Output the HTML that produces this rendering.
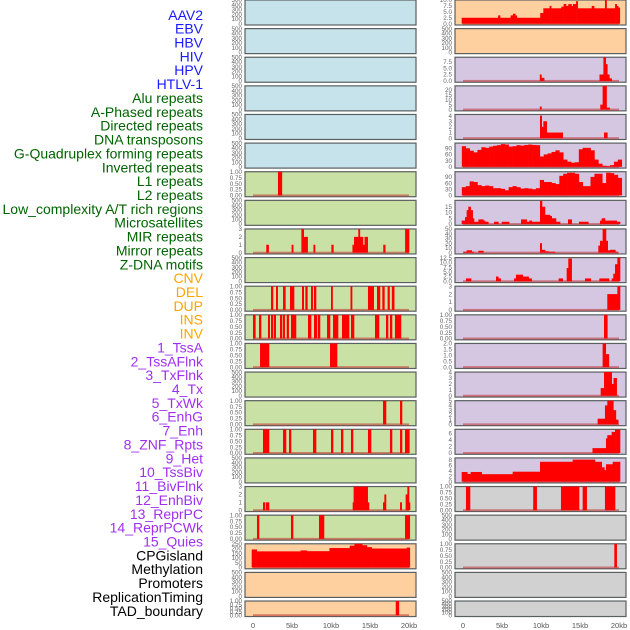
<!DOCTYPE html>
<html><head><meta charset="utf-8">
<style>
html,body{margin:0;padding:0;background:#fff;}
svg{display:block;font-family:"Liberation Sans",sans-serif;}
</style></head>
<body>
<svg id="chart" width="630" height="630" viewBox="0 0 630 630" xmlns="http://www.w3.org/2000/svg"></svg>
<script>
// ---- data ----
const labelNames = ["AAV2","EBV","HBV","HIV","HPV","HTLV-1","Alu repeats","A-Phased repeats","Directed repeats","DNA transposons","G-Quadruplex forming repeats","Inverted repeats","L1 repeats","L2 repeats","Low_complexity A/T rich regions","Microsatellites","MIR repeats","Mirror repeats","Z-DNA motifs","CNV","DEL","DUP","INS","INV","1_TssA","2_TssAFlnk","3_TxFlnk","4_Tx","5_TxWk","6_EnhG","7_Enh","8_ZNF_Rpts","9_Het","10_TssBiv","11_BivFlnk","12_EnhBiv","13_ReprPC","14_ReprPCWk","15_Quies","CPGisland","Methylation","Promoters","ReplicationTiming","TAD_boundary"];
const labelGroups = ["v","v","v","v","v","v","r","r","r","r","r","r","r","r","r","r","r","r","r","s","s","s","s","s","c","c","c","c","c","c","c","c","c","c","c","c","c","c","c","o","o","o","o","o"];
const xTicks = [0,5,10,15,20];
const xTickLabels = ["0","5kb","10kb","15kb","20kb"];

// segments: [startKb, endKb, value]
const segAlu = [[3.2,3.7,1]];
const segDirected = [[1.7,2.0,1],[4.95,5.15,1],[6.2,6.5,3],[6.5,7.0,2],[7.75,7.95,1],[10.05,10.3,1],[12.75,12.95,1],[12.95,13.5,2],[13.5,13.7,3],[13.7,14.1,2],[14.1,14.3,1],[14.3,14.7,2],[16.7,16.95,1],[19.5,20.0,3]];
const segGQuad = [[2.31,2.56,1],[2.95,3.16,1],[3.85,4.15,1],[4.74,5.26,1],[6.28,6.5,1],[6.71,6.97,1],[7.44,7.65,1],[7.82,8.08,1],[10.0,10.2,1],[12.5,12.7,1],[14.74,15.47,1],[15.9,16.28,1],[16.58,16.84,1],[17.26,17.5,1],[17.8,18.1,1]];
const segInverted = [[0.0,0.3,1],[0.77,1.03,1],[1.92,2.14,1],[2.31,2.56,1],[2.69,2.91,1],[3.46,3.72,1],[3.85,4.06,1],[4.32,4.57,1],[4.87,5.51,1],[7.05,7.44,1],[7.82,8.2,1],[8.33,8.59,1],[9.49,9.87,1],[10.26,10.9,1],[11.41,12.31,1],[12.56,12.95,1],[15.64,16.15,1],[17.05,17.31,1],[17.56,17.82,1],[18.2,18.97,1]];
const segL1 = [[0.9,2.05,1],[9.87,10.77,1]];
const segLowC = [[16.67,17.05,1],[18.85,19.1,1]];
const segMicro = [[1.28,2.05,1],[3.85,4.23,1],[4.62,4.87,1],[7.69,8.08,1],[10.0,10.26,1],[11.28,11.54,1],[12.56,12.82,1],[14.74,15.13,1],[17.56,17.82,1],[18.85,19.1,1],[19.49,20.04,1]];
const segMirror = [[1.28,1.54,1],[1.67,2.05,1],[12.78,12.9,1],[12.9,14.7,3],[14.7,14.87,1],[16.67,16.84,1],[16.84,17.05,2],[18.85,19.06,1],[19.57,19.79,2],[19.79,20.0,3],[20.0,20.1,1]];
const segZDNA = [[0.51,0.77,1],[4.87,5.13,1],[8.46,9.1,1],[19.49,20.1,1]];
const segCNV = [[-0.17,0.47,190],[0.47,6.1,170],[6.1,6.9,180],[6.9,9.8,172],[9.8,12.4,205],[12.4,13.0,230],[13.0,14.0,250],[14.0,14.6,235],[14.6,15.2,215],[15.2,19.7,200],[19.7,20.1,210]];
const segDUP = [[18.3,18.7,1]];
const segINS = [[-0.17,4.5,2.5],[4.5,4.75,3.5],[4.75,6.1,2.5],[6.1,6.4,3.5],[6.4,6.7,4.2],[6.7,6.9,3.5],[6.9,9.9,2.5],[9.9,10.3,4.5],[10.3,11.1,6.5],[11.1,11.3,7.5],[11.3,12.6,6.5],[12.6,12.9,7.2],[12.9,13.2,8.3],[13.2,13.5,7.5],[13.5,13.9,8.3],[13.9,14.1,7.5],[14.1,14.5,8.3],[14.5,14.7,9.5],[14.7,16.5,6.5],[16.5,16.8,7.5],[16.8,18.2,6.5],[18.2,18.4,10],[18.4,19.5,6.5],[19.5,19.7,8.3],[19.7,19.9,7.5],[19.9,20.1,6.8]];
const segTssA = [[9.85,10.05,2.5],[10.05,10.4,1.2],[17.5,18.0,2.5],[18.0,18.3,10],[18.3,18.5,6.5],[18.5,18.76,2.5],[18.76,19.06,1]];
const segTssAFlnk = [[9.85,10.05,3],[17.6,17.9,5],[17.9,18.4,24],[18.4,18.8,2]];
const segTxFlnk = [[9.87,10.09,4],[10.09,10.3,2],[10.3,10.73,3],[10.73,12.78,1],[18.08,18.5,1]];
const binsTx = [100,90,78,70,82,95,92,98,102,105,110,108,98,100,105,103,106,108,106,105,50,60,65,72,80,70,35,25,20,22,85,92,92,80,35,15,5,3,8,25,35];
const binsTxWk = [40,45,68,65,50,45,48,45,35,35,32,25,40,45,40,33,35,33,30,35,75,65,65,60,55,95,105,110,110,105,65,45,45,90,105,105,60,110,108,100,85];
const segEnhG = [[-0.17,0.26,3],[0.26,0.47,6],[0.47,0.68,12],[0.68,0.98,15],[0.98,1.24,12],[1.24,1.41,5],[1.41,1.97,2],[1.97,2.61,4],[2.61,2.82,3],[2.82,3.25,2],[3.97,4.53,2],[4.96,5.9,2],[7.44,8.16,4],[8.16,8.5,2],[8.5,8.8,3],[8.8,9.87,2],[9.87,10.13,20],[10.13,10.51,15],[10.51,11.15,8],[11.15,11.37,7],[11.37,11.92,5],[11.92,12.44,2],[13.46,13.93,4],[14.87,16.07,2],[17.56,17.78,3],[17.78,18.2,5],[18.2,18.85,3],[18.85,19.7,3],[19.7,20.13,2]];
const segEnh = [[0.04,0.47,2],[0.47,1.11,5],[1.11,1.41,2],[1.97,2.61,4],[9.87,10.09,20],[10.09,10.51,6],[10.51,10.94,3],[10.94,11.8,2],[17.35,17.56,15],[17.56,17.9,25],[17.9,18.33,50],[18.33,18.55,25],[18.55,18.85,5],[18.85,19.53,6],[19.53,19.79,2]];
const segZNF = [[0.38,1.03,1.5],[4.23,4.53,2.5],[4.53,4.83,1.5],[6.54,6.79,1.5],[6.79,7.65,3.5],[7.65,8.42,2.5],[8.42,8.8,1.5],[12.26,12.78,1.5],[13.29,13.5,7],[13.5,13.93,12],[15.64,16.37,1.5],[17.48,18.72,1.5],[19.06,19.27,1.5],[19.27,19.49,4],[19.49,19.79,9],[19.79,20.13,13]];
const segHet = [[18.5,19.79,2],[19.79,20.13,3]];
const segTssBiv = [[18.08,18.5,1]];
const segBivFlnk = [[17.9,18.3,2],[18.3,18.7,1.1]];
const segEnhBiv = [[17.65,18.08,1.3],[18.08,19.06,4],[19.06,19.3,2],[19.3,19.7,3]];
const segReprPC = [[17.26,18.2,1.2],[18.2,18.5,4],[18.5,19.27,5],[19.27,19.6,3],[19.6,19.9,1]];
const segReprPCWk = [[16.6,18.33,1.5],[18.33,18.5,4.5],[18.5,19.06,5.5],[19.06,19.49,6.5],[19.49,20.13,7.2]];
const segQuies = [[-0.17,0.55,3.5],[0.55,0.98,2.8],[0.98,2.39,3.5],[2.39,6.37,2.7],[6.37,9.87,3.6],[9.87,14.06,7.2],[14.06,16.92,8],[16.92,17.78,7.2],[17.78,18.12,5.2],[18.12,18.33,4.2],[18.33,19.19,6.3],[19.19,20.13,7.2]];
const segCPG = [[0.38,0.9,1],[9.0,9.44,1],[12.56,14.87,1],[15.34,15.85,1],[18.2,19.49,1]];
const segPromoters = [[19.4,19.7,1]];

const tQuarter = [0,0.25,0.5,0.75,1];
const tEmpty = [0,100,200,300,400,500];

const BG = {b:"#c6e3eb",g:"#c9e1a5",o:"#fed0a0",p:"#d5c6e2",y:"#d1d1d1"};
const panels = [];
function P(col,row,bg,ymax,ticks,segs,bins,dec,name){panels.push({col,row,bg,ymax,ticks,segs,bins,dec,name});}
for(let i=0;i<6;i++) P(0,i,"b",500,tEmpty,null,null,0,labelNames[i]);
P(0,6,"g",1,tQuarter,segAlu,null,2,labelNames[6]);
P(0,7,"g",500,tEmpty,null,null,0,labelNames[7]);
P(0,8,"g",3,[0,1,2,3],segDirected,null,0,labelNames[8]);
P(0,9,"g",500,tEmpty,null,null,0,labelNames[9]);
P(0,10,"g",1,tQuarter,segGQuad,null,2,labelNames[10]);
P(0,11,"g",1,tQuarter,segInverted,null,2,labelNames[11]);
P(0,12,"g",1,tQuarter,segL1,null,2,labelNames[12]);
P(0,13,"g",500,tEmpty,null,null,0,labelNames[13]);
P(0,14,"g",1,tQuarter,segLowC,null,2,labelNames[14]);
P(0,15,"g",1,tQuarter,segMicro,null,2,labelNames[15]);
P(0,16,"g",500,tEmpty,null,null,0,labelNames[16]);
P(0,17,"g",3,[0,1,2,3],segMirror,null,0,labelNames[17]);
P(0,18,"g",1,tQuarter,segZDNA,null,2,labelNames[18]);
P(0,19,"o",250,[0,50,100,150,200,250],segCNV,null,0,labelNames[19]);
P(0,20,"o",500,tEmpty,null,null,0,labelNames[20]);
P(0,21,"o",1,tQuarter,segDUP,null,2,labelNames[21]);
P(1,0,"o",10,[0,2.5,5,7.5,10],segINS,null,1,labelNames[22]);
P(1,1,"o",500,tEmpty,null,null,0,labelNames[23]);
P(1,2,"p",9.2,[0,2.5,5,7.5],segTssA,null,1,labelNames[24]);
P(1,3,"p",24,[0,5,10,15,20],segTssAFlnk,null,0,labelNames[25]);
P(1,4,"p",4.2,[0,1,2,3,4],segTxFlnk,null,0,labelNames[26]);
P(1,5,"p",115,[0,30,60,90],null,binsTx,0,labelNames[27]);
P(1,6,"p",115,[0,30,60,90],null,binsTxWk,0,labelNames[28]);
P(1,7,"p",20.5,[0,5,10,15],segEnhG,null,0,labelNames[29]);
P(1,8,"p",50,[0,10,20,30,40,50],segEnh,null,0,labelNames[30]);
P(1,9,"p",12.5,[0,2.5,5,7.5,10,12.5],segZNF,null,1,labelNames[31]);
P(1,10,"p",3,[0,1,2,3],segHet,null,0,labelNames[32]);
P(1,11,"p",1,tQuarter,segTssBiv,null,2,labelNames[33]);
P(1,12,"p",2,[0,0.5,1,1.5,2],segBivFlnk,null,1,labelNames[34]);
P(1,13,"p",4,[0,1,2,3,4],segEnhBiv,null,0,labelNames[35]);
P(1,14,"p",5,[0,1,2,3,4,5],segReprPC,null,0,labelNames[36]);
P(1,15,"p",7.3,[0,2,4,6],segReprPCWk,null,0,labelNames[37]);
P(1,16,"p",8.6,[0,2,4,6,8],segQuies,null,0,labelNames[38]);
P(1,17,"y",1,tQuarter,segCPG,null,2,labelNames[39]);
P(1,18,"y",500,tEmpty,null,null,0,labelNames[40]);
P(1,19,"y",1,tQuarter,segPromoters,null,2,labelNames[41]);
P(1,20,"y",500,tEmpty,null,null,0,labelNames[42]);
P(1,21,"y",500,tEmpty,null,null,0,labelNames[43]);

const NS="http://www.w3.org/2000/svg";
const svg=document.getElementById("chart");
function mk(tag,attrs,parent){const e=document.createElementNS(NS,tag);for(const k in attrs)e.setAttribute(k,attrs[k]);(parent||svg).appendChild(e);return e;}
const colLeft=[245,455], panelW=171, kbPx=7.8, zeroOff=8;
function xScale(col,kb){return colLeft[col]+zeroOff+kb*kbPx;}
function rowTop(r){return r*28.62;}
function rowH(r){return r===21?15.5:25;}
function yScale(p,v){const t=rowTop(p.row),h=rowH(p.row);const pad=1.3;const vv=Math.min(v,p.ymax);return t+h-pad-(vv/p.ymax)*(h-pad);}

const groupColor={v:"#1a1aff",r:"#006400",s:"#ffa500",c:"#a030f0",o:"#000000"};
labelNames.forEach((n,i)=>{
  const t=mk("text",{x:203,y:15+i*13.86+4.8,"text-anchor":"end","font-size":"14",fill:groupColor[labelGroups[i]]});
  
  
  t.textContent=n;
});

panels.forEach(p=>{
  const g=mk("g",{});
  
  
  const t=rowTop(p.row),h=rowH(p.row),x0=colLeft[p.col];
  const bg=mk("rect",{x:x0,y:t,width:panelW,height:h,fill:BG[p.bg],stroke:"#5a5f5f","stroke-width":1.2},g);
  
  
  p.ticks.forEach(tv=>{
    const ty=yScale(p,tv);
    const lab=mk("text",{x:x0-3,y:ty+2.2,"text-anchor":"end","font-size":"6.3",fill:"#666"},g);
    
    
    lab.textContent=tv.toFixed(p.dec);
  });
  if(p.segs||p.bins){
    const bl=mk("rect",{x:xScale(p.col,0),y:yScale(p,0)-1,width:20*kbPx,height:2,fill:"rgba(190,50,50,0.55)"},g);
    
    
  }
  const segs=p.segs||(p.bins?p.bins.map((v,i)=>[-0.15+i*0.5,-0.15+(i+1)*0.5,v]):[]);
  segs.forEach(s=>{
    const xa=xScale(p.col,s[0]),xb=xScale(p.col,s[1]);
    const yv=yScale(p,s[2]),yb=yScale(p,0);
    const r=mk("rect",{x:xa,y:yv,width:Math.max(xb-xa,1)+0.3,height:yb-yv,fill:"#ff0000"},g);
    
    
  });
});

[0,1].forEach(c=>{
  xTicks.forEach((k,i)=>{
    const tl=mk("text",{x:xScale(c,k),y:628,"text-anchor":"middle","font-size":"7.5",fill:"#555"});
    
    
    tl.textContent=xTickLabels[i];
  });
});
</script>
</body></html>
